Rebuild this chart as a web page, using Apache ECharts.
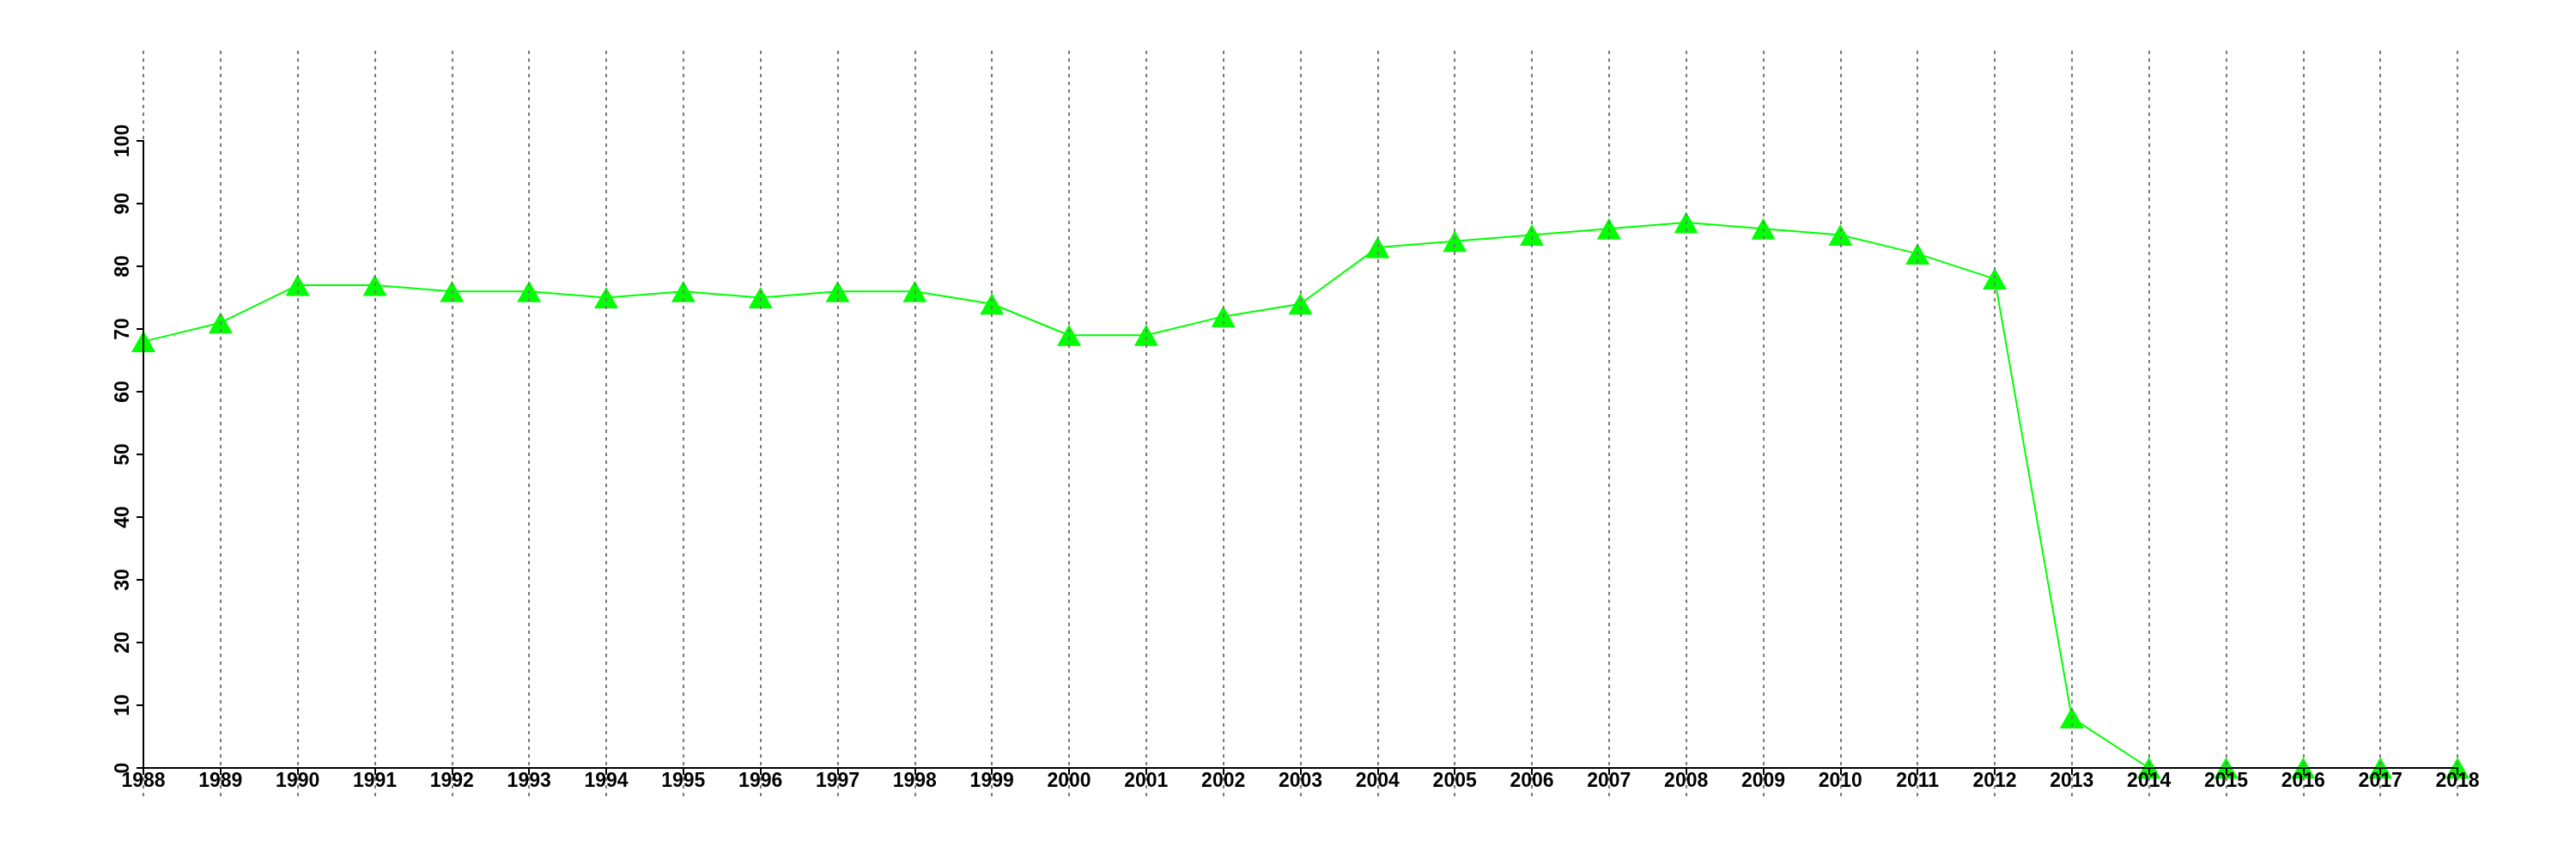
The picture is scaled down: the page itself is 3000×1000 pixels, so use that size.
<!DOCTYPE html>
<html>
<head>
<meta charset="utf-8">
<script src="https://cdn.jsdelivr.net/npm/echarts@6/dist/echarts.min.js"></script>
<style>
html,body{margin:0;padding:0;background:#fff;}
#chart{width:3000px;height:1000px;}
</style>
</head>
<body>
<div id="chart"></div>
<script>
var years = ['1988','1989','1990','1991','1992','1993','1994','1995','1996','1997','1998','1999','2000','2001','2002','2003','2004','2005','2006','2007','2008','2009','2010','2011','2012','2013','2014','2015','2016','2017','2018'];
var values = [68,71,77,77,76,76,75,76,75,76,76,74,69,69,72,74,83,84,85,86,87,86,85,82,78,8,0,0,0,0,0];
var yTicks = {min:0, max:100, interval:10};

var font = 'Liberation Sans, Arial, Helvetica, sans-serif';
var chart = echarts.init(document.getElementById('chart'), null, {renderer:'canvas'});
chart.setOption({
  backgroundColor:'#ffffff',
  animation:false,
  grid:[
    {left:167, right:138, top:164, bottom:106, containLabel:false},
    {left:167, right:138, top:59, bottom:73, containLabel:false}
  ],
  xAxis:[
    {
      type:'category', gridIndex:0, data:years, boundaryGap:false, z:8,
      axisLine:{show:true, onZero:false, lineStyle:{color:'#000', width:2}},
      axisTick:{show:true, length:8, interval:0, alignWithLabel:true, lineStyle:{color:'#000', width:2}},
      axisLabel:{show:true, interval:0, margin:4, color:'#000', fontSize:23, fontWeight:'bold', fontFamily:font},
      splitLine:{show:false}
    },
    {
      type:'category', gridIndex:1, data:years, boundaryGap:false, z:5,
      axisLine:{show:false}, axisTick:{show:false}, axisLabel:{show:false},
      splitLine:{show:true, interval:0, lineStyle:{color:'#7a7a7a', width:2, type:[4,5]}}
    }
  ],
  yAxis:[
    {
      type:'value', gridIndex:0, min:yTicks.min, max:yTicks.max, interval:yTicks.interval, z:8,
      axisLine:{show:true, lineStyle:{color:'#000', width:2}},
      axisTick:{show:true, length:8, lineStyle:{color:'#000', width:2}},
      axisLabel:{show:true, rotate:90, margin:12, color:'#000', fontSize:23, fontWeight:'bold', fontFamily:font},
      splitLine:{show:false}
    },
    {
      type:'value', gridIndex:1, min:0, max:1,
      show:false, splitLine:{show:false}
    }
  ],
  series:[
    {
      type:'line', xAxisIndex:0, yAxisIndex:0, data:values,
      lineStyle:{color:'#00ff00', width:2},
      itemStyle:{color:'#00ff00'},
      symbol:'triangle', symbolSize:[28,25], showAllSymbol:true,
      clip:false
    }
  ]
});
</script>
</body>
</html>
